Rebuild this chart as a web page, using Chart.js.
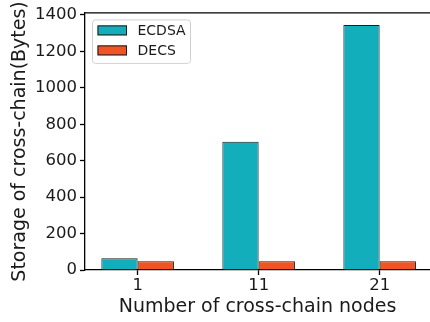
<!DOCTYPE html>
<html>
<head>
<meta charset="utf-8">
<script src="https://cdn.jsdelivr.net/npm/chart.js@4.4.1/dist/chart.umd.min.js"></script>
<style>
    html, body { margin: 0; padding: 0; background: #fff; overflow: hidden; }
    #wrap { width: 430px; height: 322px; }
</style>
</head>
<body>
<div id="wrap"><canvas id="storageChart" width="430" height="322"></canvas></div>
<script>
// Storage cost per cross-chain transaction, by node count
const nodeCounts = ['1', '11', '21'];
const ecdsaBytes = [64, 704, 1344];
const decsBytes = [48, 48, 48];
const yTicks = [0, 200, 400, 600, 800, 1000, 1200, 1400];

const TEAL = '#12aebb';
const ORANGE = '#f05423';
const EDGE = '#1e1e1e';
const FONT = 'DejaVu Sans, sans-serif';

function toPoints(values) {
    return values.map(function (v, i) { return { x: i, y: v }; });
}

// Top spine + framed legend in the upper-left corner of the plot
const framePlugin = {
    id: 'framePlugin',
    afterDraw: function (chart) {
        const ctx = chart.ctx;
        const area = chart.chartArea;
        ctx.save();
        ctx.strokeStyle = '#000';
        ctx.lineWidth = 1.3;
        ctx.beginPath();
        ctx.moveTo(area.left, area.top);
        ctx.lineTo(area.right, area.top);
        ctx.stroke();

        // legend frame
        const bx = area.left + 7.5, by = area.top + 7, bw = 98, bh = 43.5, r = 3;
        ctx.fillStyle = 'rgba(255,255,255,0.8)';
        ctx.strokeStyle = '#d0d0d0';
        ctx.lineWidth = 1;
        ctx.beginPath();
        ctx.moveTo(bx + r, by);
        ctx.arcTo(bx + bw, by, bx + bw, by + bh, r);
        ctx.arcTo(bx + bw, by + bh, bx, by + bh, r);
        ctx.arcTo(bx, by + bh, bx, by, r);
        ctx.arcTo(bx, by, bx + bw, by, r);
        ctx.closePath();
        ctx.fill();
        ctx.stroke();

        ctx.font = '14px ' + FONT;
        ctx.textBaseline = 'middle';
        chart.data.datasets.forEach(function (ds, i) {
            const sy = by + 5.5 + i * 20;
            ctx.fillStyle = ds.backgroundColor;
            ctx.fillRect(bx + 5, sy, 29.5, 10);
            ctx.strokeStyle = EDGE;
            ctx.strokeRect(bx + 5.5, sy + 0.5, 28.5, 9);
            ctx.fillStyle = '#1a1a1a';
            ctx.fillText(ds.label, bx + 45, sy + 5.5);
        });
        ctx.restore();
    }
};

new Chart(document.getElementById('storageChart').getContext('2d'), {
    type: 'bar',
    data: {
        datasets: [{
            label: 'ECDSA',
            data: toPoints(ecdsaBytes),
            backgroundColor: TEAL,
            borderColor: EDGE,
            borderWidth: 1,
            categoryPercentage: 0.6,
            barPercentage: 1
        }, {
            label: 'DECS',
            data: toPoints(decsBytes),
            backgroundColor: ORANGE,
            borderColor: EDGE,
            borderWidth: 1,
            categoryPercentage: 0.6,
            barPercentage: 1
        }]
    },
    options: {
        responsive: false,
        animation: false,
        events: [],
        layout: { padding: { top: 12, right: 0, left: 0, bottom: 0 } },
        plugins: { legend: { display: false }, tooltip: { enabled: false } },
        scales: {
            x: {
                type: 'linear',
                offset: false,
                min: -0.435,
                max: 2.416,
                afterBuildTicks: function (scale) {
                    scale.ticks = nodeCounts.map(function (_, i) { return { value: i }; });
                },
                afterFit: function (scale) { scale.height = 52; },
                grid: { display: true, drawOnChartArea: false, offset: false, tickLength: 5, tickWidth: 1.3, tickColor: '#000' },
                border: { display: true, color: '#000', width: 1.3 },
                ticks: {
                    color: '#1a1a1a',
                    padding: 1,
                    maxRotation: 0,
                    autoSkip: false,
                    font: { family: FONT, size: 16.5 },
                    callback: function (v) { return nodeCounts[v]; }
                },
                title: {
                    display: true,
                    text: 'Number of cross-chain nodes',
                    color: '#1a1a1a',
                    font: { family: FONT, size: 19 },
                    padding: { top: 0, bottom: 4 }
                }
            },
            y: {
                min: 0,
                max: 1411,
                afterBuildTicks: function (scale) {
                    scale.ticks = yTicks.map(function (v) { return { value: v }; });
                },
                afterFit: function (scale) { scale.width = 85; },
                grid: { display: true, drawOnChartArea: false, tickLength: 5, tickWidth: 1.3, tickColor: '#000' },
                border: { display: true, color: '#000', width: 1.3 },
                ticks: {
                    color: '#1a1a1a',
                    padding: 3,
                    font: { family: FONT, size: 16.5 },
                    callback: function (v) { return String(v); }
                },
                title: {
                    display: true,
                    text: 'Storage of cross-chain(Bytes)',
                    color: '#1a1a1a',
                    font: { family: FONT, size: 19 },
                    padding: { top: 9, bottom: 0 }
                }
            }
        }
    },
    plugins: [framePlugin]
});
</script>
</body>
</html>
